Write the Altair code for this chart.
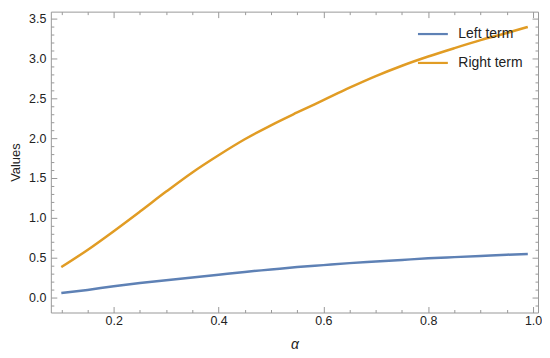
import altair as alt
import pandas as pd

alpha = [0.1, 0.15, 0.2, 0.25, 0.3, 0.35, 0.4, 0.45, 0.5, 0.55, 0.6, 0.65,
         0.7, 0.75, 0.8, 0.85, 0.9, 0.95, 0.99]
left_term = [0.06, 0.10, 0.145, 0.185, 0.22, 0.255, 0.29, 0.325, 0.355, 0.385,
             0.41, 0.435, 0.455, 0.475, 0.495, 0.51, 0.525, 0.54, 0.55]
right_term = [0.385, 0.60, 0.835, 1.08, 1.33, 1.57, 1.785, 1.985, 2.16, 2.32,
              2.475, 2.63, 2.775, 2.905, 3.02, 3.125, 3.225, 3.315, 3.39]
series_names = ["Left term", "Right term"]
colors = ["#5E81B5", "#E19C24"]

x_major = [0.2, 0.4, 0.6, 0.8, 1.0]
x_minor = [0.1, 0.15, 0.25, 0.3, 0.35, 0.45, 0.5, 0.55, 0.65, 0.7, 0.75,
           0.85, 0.9, 0.95]
y_major = [0.0, 0.5, 1.0, 1.5, 2.0, 2.5, 3.0, 3.5]
y_minor = [-0.1, 0.1, 0.2, 0.3, 0.4, 0.6, 0.7, 0.8, 0.9, 1.1, 1.2, 1.3, 1.4,
           1.6, 1.7, 1.8, 1.9, 2.1, 2.2, 2.3, 2.4, 2.6, 2.7, 2.8, 2.9, 3.1,
           3.2, 3.3, 3.4]

rows = []
for a, v in zip(alpha, left_term):
    rows.append({"alpha": a, "value": v, "series": series_names[0]})
for a, v in zip(alpha, right_term):
    rows.append({"alpha": a, "value": v, "series": series_names[1]})
df = pd.DataFrame(rows)

xscale = alt.Scale(domain=[0.08, 1.0095], nice=False, zero=False)
yscale = alt.Scale(domain=[-0.183, 3.582], nice=False, zero=False)

FONT = "Liberation Sans"
MAJ = 6
MIN = 3

def x_axis(orient, values, size, labels=False, title=False):
    kw = dict(orient=orient, values=values, tickSize=size, offset=-size,
              labels=labels, domain=False, grid=False)
    if labels:
        kw.update(format=".1f", labelPadding=2, labelFontSize=12.5,
                  labelColor="#222222", labelFont=FONT)
    if title:
        kw.update(titleFont=FONT, titleFontSize=14, titleFontStyle="italic",
                  titleFontWeight="normal", titleColor="#222222", titlePadding=11)
    return alt.Axis(**kw)

def y_axis(orient, values, size, labels=False, title=False):
    kw = dict(orient=orient, values=values, tickSize=size, offset=-size,
              labels=labels, domain=False, grid=False)
    if labels:
        kw.update(format=".1f", labelPadding=5, labelFontSize=12.5,
                  labelColor="#222222", labelFont=FONT)
    if title:
        kw.update(titleFont=FONT, titleFontSize=13, titleFontWeight="normal",
                  titleColor="#222222", titlePadding=6)
    return alt.Axis(**kw)

base = alt.Chart(df)

main = base.mark_line(strokeWidth=2.5, interpolate="monotone").encode(
    x=alt.X("alpha:Q", scale=xscale, title="α",
            axis=x_axis("bottom", x_major, MAJ, labels=True, title=True)),
    y=alt.Y("value:Q", scale=yscale, title="Values",
            axis=y_axis("left", y_major, MAJ, labels=True, title=True)),
    color=alt.Color("series:N",
                    scale=alt.Scale(domain=series_names, range=colors),
                    legend=alt.Legend(title=None, orient="none", legendX=367,
                                      legendY=6, padding=0, symbolType="stroke",
                                      symbolSize=900, symbolStrokeWidth=2.2,
                                      labelFont=FONT, labelFontSize=14,
                                      labelColor="#222222", labelOffset=9,
                                      rowPadding=5)),
)

def ghost(xa, ya):
    return base.mark_line(opacity=0).encode(
        x=alt.X("alpha:Q", scale=xscale, title=None, axis=xa),
        y=alt.Y("value:Q", scale=yscale, title=None, axis=ya),
        detail="series:N",
    )

l2 = ghost(x_axis("bottom", x_minor, MIN), y_axis("left", y_minor, MIN))
l3 = ghost(x_axis("top", x_major, MAJ), y_axis("right", y_major, MAJ))
l4 = ghost(x_axis("top", x_minor, MIN), y_axis("right", y_minor, MIN))

chart = alt.layer(main, l2, l3, l4).resolve_axis(
    x="independent", y="independent"
).properties(
    width=489, height=302,
    autosize=alt.AutoSizeParams(type="none"),
    padding={"left": 43, "top": 3, "right": 4, "bottom": 40},
).configure_view(
    stroke="#999999", strokeWidth=1
).configure_axis(
    tickColor="#999999", tickWidth=1
)

chart.save("out.html", embed_options={"renderer": "svg", "actions": False})
